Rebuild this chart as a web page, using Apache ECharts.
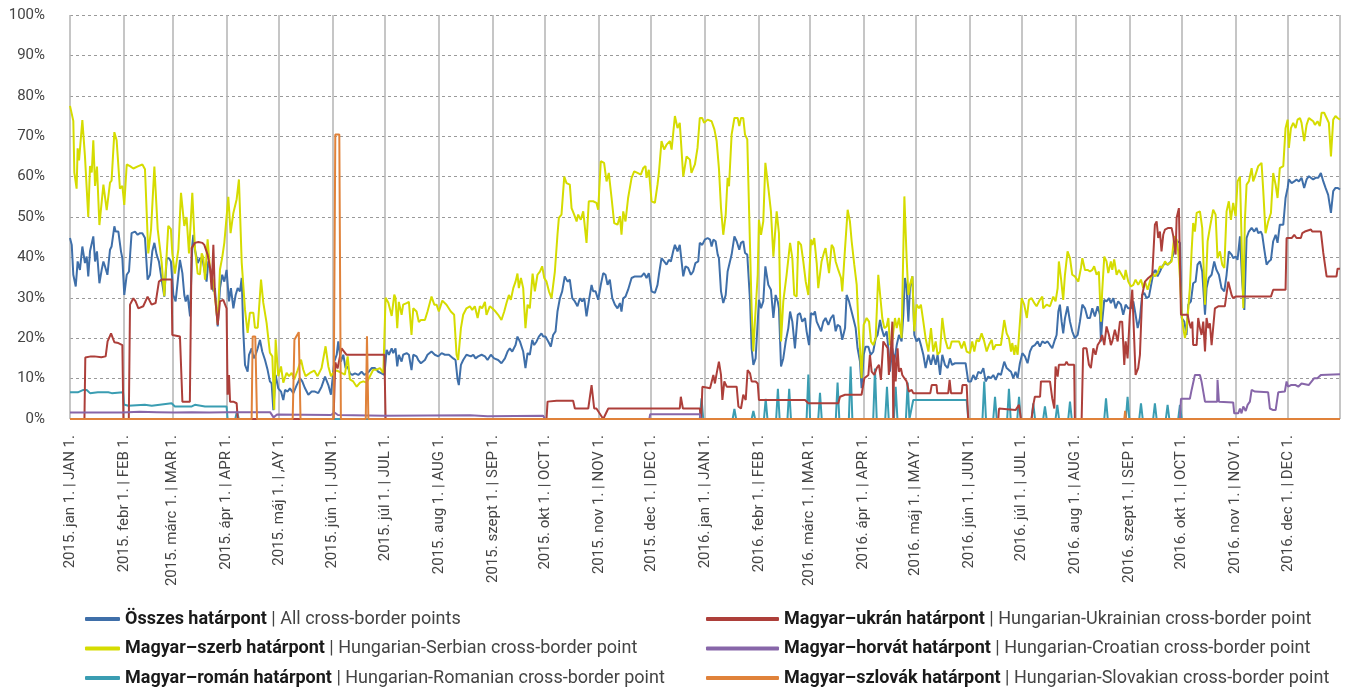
<!DOCTYPE html>
<html><head><meta charset="utf-8">
<script src="https://cdn.jsdelivr.net/npm/echarts@6/dist/echarts.min.js"></script>
<style>html,body{margin:0;padding:0;background:#fff}#c{width:1355px;height:688px}</style>
</head><body><div id="c"></div>
<script>
// x = day index from 2015-01-01 (0) to 2016-12-31 (730)
const dayCount = 731;
const monthStarts = [0,31,59,90,120,151,181,212,243,273,304,334,365,396,425,456,486,517,547,578,609,639,670,700];
const monthLabels = [
 '2015. jan 1. | JAN 1.','2015. febr 1. | FEB 1.','2015. márc 1. | MAR 1.','2015. ápr 1. | APR 1.',
 '2015. máj 1. | ,AY 1.','2015. jún 1. | JUN 1.','2015. júl 1. | JUL 1.','2015. aug 1. | AUG 1.',
 '2015. szept 1. | SEP 1.','2015. okt 1. | OCT 1.','2015. nov 1. | NOV 1.','2015. dec 1. | DEC 1.',
 '2016. jan 1. | JAN 1.','2016. febr 1. | FEB 1.','2016. márc 1. | MAR 1.','2016. ápr 1. | APR 1.',
 '2016. máj 1. | MAY 1.','2016. jún 1. | JUN 1.','2016. júl 1. | JUL 1.','2016. aug 1. | AUG 1.',
 '2016. szept 1. | SEP 1.','2016. okt 1. | OCT 1.','2016. nov 1. | NOV 1.','2016. dec 1. | DEC 1.'];
const yTicks = [0,10,20,30,40,50,60,70,80,90,100];

const seriesNames = ['Összes határpont','Magyar–szerb határpont','Magyar–román határpont','Magyar–ukrán határpont','Magyar–horvát határpont','Magyar–szlovák határpont'];
const seriesEnglish = ['All cross-border points','Hungarian-Serbian cross-border point','Hungarian-Romanian cross-border point','Hungarian-Ukrainian cross-border point','Hungarian-Croatian cross-border point','Hungarian-Slovakian cross-border point'];

const osszes = [[0,44.8],[1,43.1],[1.9,35.7],[3.3,32.8],[4.4,39],[5.7,36.9],[7.1,42.7],[8.6,38.6],[9.6,40.2],[10.5,35.3],[11.5,41.5],[12.5,41.9],[13.4,45.2],[14.4,39],[15.5,41.5],[16.9,33.6],[18.2,36.9],[19.2,39],[20.1,37.8],[21.5,35.7],[23,41.9],[23.9,42.7],[25.5,47.7],[26.2,46.4],[27.8,46.4],[29.3,41.5],[30.1,39.8],[31.2,30.7],[32.6,35.7],[33.9,36.5],[35.4,46],[37.4,46.4],[38.9,45.6],[40.2,46],[41.6,46],[43.1,44.8],[44.6,34.5],[46,35.7],[47.3,41.5],[48.5,43.6],[49.8,40.7],[51.1,39],[52.7,34.5],[54.2,30.3],[55.6,39.8],[56.9,39.8],[58,39],[59.4,30.7],[60.7,29.1],[61.9,34],[63.2,39.4],[64.6,36.1],[65.7,30.7],[66.5,29.1],[67.6,30.7],[69,25.4],[69.5,25],[70.3,43.1],[70.9,45.6],[71.8,41.9],[73.4,38.6],[74.7,39.8],[76.1,39.8],[77.2,36.9],[78.5,34],[79.5,39],[80.5,37.4],[81.4,34.9],[82.4,31.6],[83.3,32.4],[84.9,22.9],[86.2,32.4],[87.5,35.7],[88.7,34],[90,36.9],[91.4,29.1],[92.5,32.4],[93.9,27.4],[95.2,30.7],[96.4,32.4],[97.7,31.6],[98.7,34.9],[99.6,21.7],[100.6,13.4],[102.1,11.7],[102.9,15.9],[104.4,17.5],[105.6,15],[106.7,15.9],[107.9,17.5],[109.2,19.6],[110.5,16.7],[112.1,14.6],[113.6,12.1],[114.9,9.3],[115.9,8.8],[116.9,2.2],[118.2,10.9],[119.7,7.6],[121.3,6.8],[122.6,4.7],[123.6,7.2],[125.1,6.8],[126.4,7.6],[128.4,6.4],[130.3,8.4],[132.2,10.1],[133.5,9.3],[135.1,7.6],[137,6],[138.9,6.8],[140.8,6.8],[142.7,6.4],[144.6,8],[146.6,10.5],[148.5,8.4],[150,6],[151.9,14.2],[153.3,15.9],[154.2,19.2],[155.7,14.2],[157.1,15.9],[158.4,12.6],[159.6,13],[160.9,11.3],[162.3,10.9],[163.8,11.3],[165.7,10.9],[167.6,11.7],[169.2,10.9],[170.5,11.3],[171.8,11.7],[173.4,12.6],[175.3,12.6],[177.2,11.7],[179.1,11.3],[180.7,10.9],[182,17.1],[183.3,15.9],[184.9,17.5],
[185.8,16.3],[187.1,17.5],[188.1,13],[189,15.9],[190.6,14.2],[191.5,15.9],[193.5,16.3],[194.8,15.9],[196.3,12.1],[197.3,15.9],[199.2,15.5],[200.2,14.6],[201.7,13.8],[204,14.6],[205.5,15.9],[207.8,16.7],[209.7,15.9],[211.7,15.5],[213.6,16.3],[215.5,15.9],[217.8,15.9],[220.3,15],[221.6,14.6],[222.8,9.7],[223.5,8.4],[224.7,13.4],[226,14.6],[227.9,15.9],[230.4,15.5],[231.8,15.9],[233.1,15],[234.6,15.5],[236.6,15.9],[238.5,15.5],[240,14.6],[241.9,15.9],[243.8,15],[246.1,14.6],[248,13.8],[250,15],[251.5,16.7],[252.8,17.5],[254.2,16.7],[256.1,18.3],[257.2,20.4],[258.6,19.2],[259.5,19.2],[260.5,16.7],[261.8,12.6],[263,16.3],[264.3,15.9],[265.7,19.6],[266.8,18.3],[268.2,19.2],[269.5,20.4],[271,21.2],[272,20.4],[273.3,20.4],[274.9,19.2],[276.4,17.9],[277.7,20.8],[279.1,21.7],[280.2,26.6],[281.6,29.9],[282.9,31.6],[284.4,35.3],[286,34],[287.3,34.5],[288.7,29.9],[290.2,29.1],[291.7,27.9],[293.1,29.9],[294.4,29.1],[295.6,29.9],[296.9,25.4],[298.2,29.1],[299.8,33.2],[300.7,31.6],[302.1,31.6],[303.6,29.5],[305.1,33.2],[306.5,36.1],[307.8,35.7],[309,33.2],[310.3,34.5],[311.7,29.9],[313.2,28.3],[314.7,27.4],[316.1,28.7],[317,26.6],[318,29.9],[319.3,30.3],[320.8,32],[322.8,34.9],[324.7,35.3],[327,35.3],[328.5,35.3],[330,36.1],[331.4,34.9],[332.7,36.1],[334.3,31.6],[336.2,31.2],[337.7,33.2],[338.5,35.7],[340,39.8],[341.5,39],[342.9,38.2],[344.2,39.4],[345.4,39],[346.7,41.5],[347.7,43.1],[349.2,41.5],[350.5,43.1],[352.5,35.3],[353.8,37.8],[355.3,37.4],[356.9,35.7],[358.2,36.5],[359.5,38.6],[361.1,39],[362,43.6],[363.4,43.1],[364.9,44.4],
[365,44.4],[366.5,44.8],[367.9,44.4],[368.8,42.7],[369.8,44.4],[371.1,44],[372.3,40.7],[373,39.8],[374.2,31.6],[375.5,28.7],[376.9,30.7],[378,36.5],[378.8,36.1],[380.3,40.7],[381.9,45.2],[383.2,44],[384.7,41.9],[385.7,43.6],[387,44],[388,41.1],[389.3,40.7],[390.9,29.1],[391.8,17.5],[392.8,13.4],[394.1,15],[395.3,24.1],[396,29.5],[397.2,27.4],[398.5,29.1],[399.7,37.8],[401.4,33.2],[402.9,32],[404.3,25],[405.6,30.7],[406.8,29.1],[407.5,27.4],[408.7,13],[410,15],[411.4,19.2],[412.9,22.5],[413.9,26.6],[415.2,24.1],[416.7,17.5],[418.3,25.8],[419.6,26.2],[420.9,24.1],[422.5,25],[423.4,21.7],[424.8,18.3],[425.9,26.2],[427.3,25.8],[428.2,26.6],[429.2,24.1],[430.1,23.7],[431.7,21.7],[433,24.1],[434.3,25],[435.9,23.3],[437.4,25],[438.8,25.8],[440.1,21.7],[441.2,23.3],[442.6,22.9],[443.9,19.6],[445.5,22.5],[446.4,30.7],[447.8,29.1],[448.9,29.1],[450.2,25],[451.6,22.5],[452.7,17.5],[454.1,14.2],[455,7.6],[456.2,15.9],[457.3,17.9],[458.9,17.9],[460.2,15.9],[461.7,16.7],[463.1,20],[464.2,20.8],[465.6,24.5],[466.5,22.5],[467.9,20.4],[469.4,21.7],[470.4,17.5],[471.3,11.7],[472.7,17.5],[473.8,14.2],[475.2,18.3],[476.5,20.8],[478,19.2],[479,25.8],[479.9,34.9],[480.9,32.4],[481.9,24.1],[482.8,32.4],[484.2,35.3],[485.3,20.8],[486.6,19.2],[488,20],[489.1,18.3],[490.5,15.9],[491.8,12.6],[493.4,15.9],[494.9,13.4],[496.2,15.9],[497.6,13.4],[498.7,15.9],[500.1,10.9],[501.4,15.9],[502.9,13.4],[504.5,12.6],[505.8,15],[507,13.4],[508.7,13.8],[512.9,13.8],[514.8,13.8],[516.3,9.3],[517.9,9.3],[519.2,10.9],[520.6,9.7],[522.1,11.7],[523.6,11.3],[525,12.6],[526.3,9.3],[527.8,10.5],[529.4,10.1],[530.7,10.9],[532.1,9.7],[533.6,11.3],[535.1,10.9],[537,14.2],[538.4,12.6],[539.7,12.1],[540.9,11.7],[542.2,10.1],[543.5,11.7],[544.7,10.1],[546,13.8],[547.4,16.3],[548.9,15.5],
[550.4,13.8],[551.8,16.7],[553.1,17.9],[554.6,18.3],[556.2,19.2],[557.5,17.9],[558.9,19.2],[560.4,18.8],[561.9,19.2],[563.3,18.3],[564.6,17.5],[565.8,19.2],[567.1,20.8],[568.1,26.6],[569,28.3],[570,24.1],[570.9,21.2],[571.9,24.9],[573.4,27.9],[574.8,24.1],[576.1,21.7],[577.6,20],[579.2,20.8],[580.5,24.1],[581.9,28.3],[583.4,27.4],[584.9,25],[586.3,25],[587.6,27.4],[589.1,25.4],[590.7,27.9],[592,25.8],[592.6,19.2],[593.3,24.1],[594.5,29.5],[595.8,29.1],[597.2,29.9],[598.3,28.7],[599.7,29.9],[601,27.4],[602.5,29.1],[604.1,28.3],[605.4,25.8],[606.8,28.3],[608.3,27.4],[609.8,27.4],[611.2,29.1],[612.5,25.8],[613.7,22.5],[615,25],[616.3,30.7],[617.5,31.2],[618.8,29.9],[620.2,30.3],[621.3,29.9],[622.7,36.1],[624,36.9],[625.1,35.3],[626.5,36.5],[627.8,37.8],[629.4,38.6],[630.9,38.2],[632.8,39],[634.1,40.7],[635.5,43.1],[636.6,44],[638,43.6],[639,25],[640.5,24.1],[641.8,20.8],[642.8,28.3],[644.3,29.1],[645.6,33.6],[647,34],[648.1,38.2],[649.5,39],[650.8,36.5],[652.4,25.8],[653.3,32.4],[654.6,34.9],[656.2,35.7],[657.7,39],[659,36.9],[660.4,35.7],[661.9,32.4],[663.5,31.6],[664.8,35.7],[666.1,41.5],[667.7,40.7],[668.6,39.8],[670,40.2],[671.1,39.4],[672.5,45.2],[673.8,34],[675,27],[676.3,44.8],[677.6,46.4],[679.2,47.3],[680.7,46.4],[682,47.3],[683,46],[684.5,46.4],[685.3,45.6],[686.5,41.9],[687.8,38.2],[689.1,39],[690.3,39.4],[691.6,44],[693,45.6],[694.1,43.6],[695.4,48.1],[697.4,48.1],[698.7,54.7],[699.9,57.2],[700.6,59.3],[702.2,58.4],[703.7,58.8],[705,59.3],[706.4,58.8],[707.9,59.7],[709.4,57.2],[710.8,59.3],[712.1,60.1],[713.3,59.7],[714.6,59.3],[715.9,59.7],[717.5,59.7],[719,60.9],[720.4,58.8],[721.7,57.2],[723.2,55.5],[724.8,51],[726.1,56.4],[727.4,57.2],[728.6,57.2],[730,56.8]];

const szerb = [[0,77.5],[1.9,73.8],[2.5,61],[3.8,57],[4.4,67],[5.2,64],[7.1,74],[8.6,65],[10.5,50],[11.5,62.6],[12.5,61],[13.4,69],[14.4,57.7],[15.5,62.5],[16.9,48],[19.2,58],[21.1,51.7],[23,58.5],[23.9,59],[25.5,71],[26.8,69],[27.8,69],[28.7,57],[30.1,57.7],[31.2,53],[32.6,63],[34.5,62.6],[36.4,62],[39.3,62.6],[41.6,63],[43.1,61.8],[45,41],[46.6,47],[48.5,62.5],[50.4,47],[52.7,38.7],[54.2,30.4],[56.5,47.8],[58,47],[58.8,41],[60.3,36],[62.3,42],[63.8,56],[65.7,47.8],[67,50],[68.4,41],[70.3,56],[71.8,42.4],[73.4,36],[74.7,35.8],[75.7,41],[76.6,40],[77.6,34.5],[79.1,44.5],[80.5,37],[82.4,34],[83.7,28.8],[84.9,23.8],[86.2,37],[87.5,40],[88.7,43.6],[91,55],[92.3,46],[93.9,51],[95.8,54.4],[97.1,59.3],[98.7,38.7],[100.6,27],[102.1,21.3],[103.4,26.3],[105.4,26.3],[106.3,22.6],[107.9,22.6],[109.8,34.5],[111.1,28.8],[113,23.8],[114.9,16.4],[116.3,15.5],[117.4,2.3],[118.2,19.7],[119.7,10.6],[121.3,13],[122.6,9],[124.5,11.4],[125.9,10.6],[127.4,11.4],[128.9,9.8],[130.8,12],[132.8,14.7],[134.1,12.2],[135.4,10.6],[137.9,11.4],[140.4,12],[142.3,10.6],[144.6,12.6],[146.9,18],[148.5,13],[150,10.6],[151.3,11.4],[153.3,12],[156.1,11.4],[158,11],[159.6,15.5],[160.9,9.8],[162.8,9.3],[164.8,8],[166.7,9],[168.6,9.3],[170.5,9],[172.4,10.6],[174.3,12.2],[176.2,12.2],[178.2,12.6],[180.1,11.4],[181.4,30],[183,28.8],[184.9,25.5],[186.4,30.8],
[187.1,30],[188.1,22.5],[189,29],[190.6,25.8],[191.5,28.3],[193.5,28.7],[194.8,29],[196.3,20.8],[197.3,27.4],[199.2,26.6],[200.5,24],[201.7,24.5],[204,24.5],[205.5,26.6],[207.8,30.3],[209.4,28.3],[210.7,28.3],[212,26.6],[214,29.3],[216.4,28.3],[218.9,26.6],[220.8,25.8],[222.2,15.9],[223.1,14.6],[224.7,22.5],[226,25.8],[227.9,27.4],[229.9,27.9],[231.2,27],[232.7,27.9],[234.3,25],[235.6,27.9],[236.9,27.4],[238.5,29],[239.4,25.8],[241.3,27.9],[242.7,27.4],[244.6,26.6],[246.1,25.8],[248,24.5],[249.6,26.6],[250.9,28.7],[252.3,30.7],[253.4,29.5],[254.8,32.4],[256.1,34],[257.2,36],[258,32.4],[259.2,34.9],[260.5,32.4],[261.8,22.5],[263,28.3],[264.3,27.4],[265.9,36],[267.2,31.6],[268.7,35.7],[270.1,36.5],[271.4,37.8],[272.6,34.9],[273.9,34],[275.3,31.6],[276.8,29.9],[278.7,36.5],[280.2,45.6],[281,49.8],[282.5,50.6],[284.1,60],[285.4,58.4],[287.3,58],[288.3,52.2],[289.8,50.6],[291.2,48.9],[292.1,50.6],[293.6,49.3],[295,51.4],[296.9,43.6],[298.2,53.9],[300.7,53.9],[302.6,53.5],[303.6,51.8],[305.1,63.8],[307,63.4],[308.4,58.8],[309.7,60.9],[311.3,54.7],[312.8,48.5],[314.7,48.1],[316.1,50.2],[317,45.6],[318,51.4],[319.3,48.9],[320.8,54.7],[322.8,59.7],[324.3,61.3],[326.2,60.9],[328.1,60.5],[329.5,62.1],[330.8,62.6],[331.4,59.7],[332.7,61.7],[334.3,53.9],[336.2,53.5],[337.7,58],[338.5,60.9],[340,68.8],[341.5,66.7],[342.9,67.9],[344.8,68.8],[345.8,66.7],[347.7,75],[349.2,72],[350.5,73.3],[352.5,60],[354.4,65],[356.3,64.2],[357.2,60.9],[359.2,63],[360.7,67.1],[362,74.5],[363.4,74.5],[364.5,73.3],
[365,73.3],[366.5,74.1],[368.8,73.7],[370.4,71.7],[371.7,68.8],[373,62.1],[374.2,52.2],[375.5,45.6],[376.9,50.6],[378,59.7],[378.8,57.6],[380.3,70.4],[381.9,74.5],[383.8,74.5],[384.7,72.5],[385.7,74.5],[387,74.5],[388,70.4],[389.3,69.2],[390.9,42.3],[391.8,27.4],[392.8,16.7],[393.7,24.1],[395.3,35.7],[396,49.3],[397.2,45.6],[398.5,48.9],[399.7,63.4],[401.4,57.2],[402.9,51.4],[404.3,40.2],[405.2,45.6],[406.2,51.4],[407.5,46],[408.7,19.2],[410,29.1],[411.9,35.7],[413.9,43.6],[415.2,39.8],[416.3,30.7],[417.7,30.3],[418.6,44],[420.2,43.1],[421.5,39],[422.9,34],[424.4,30.7],[425.9,44.4],[426.7,43.1],[427.8,44.8],[429.2,38.6],[430.1,32.4],[432,39],[433.6,41.5],[434.3,42.3],[436.3,36.1],[437.8,43.1],[438.9,42.3],[440.1,39],[441.6,36.9],[443.2,34.9],[443.9,31.6],[445.5,42.3],[447,51.8],[448.3,48.9],[449.3,44],[450.8,38.2],[452.2,33.2],[453.1,24.1],[454.1,17.5],[455,10.1],[456.2,23.3],[457.9,25],[459.3,24.1],[460.4,19.2],[461.7,18.3],[463.1,20],[464.6,35.7],[465.6,36.1],[466.9,25],[468.1,22.5],[469.4,22.9],[470.4,25],[471.3,18.3],[472.7,19.6],[474.2,25],[475.2,22.5],[476.5,25],[478,20],[479.6,55.1],[480.9,39.8],[481.9,30.7],[482.8,33.2],[484.2,35.3],[485.3,21.7],[486.6,28.3],[488,27.4],[489.1,28.3],[490.5,24.1],[491.8,20],[493.4,16.7],[494.9,22.5],[496.2,16.7],[497.6,19.2],[498.7,15.9],[500.1,16.7],[501.4,25],[502.9,20],[504.5,17.5],[505.8,17.5],[506.8,19.2],[508.7,19.2],[511,19.2],[512.5,17.5],[514,19.2],[515.4,16.7],[517.3,16.3],[518.6,19.2],[519.8,16.7],[521.1,19.6],[522.5,19.2],[524,21.2],[525.5,19.2],[526.9,16.7],[528.2,18.3],[529.8,19.6],[530.7,17.1],[532.1,18.3],[533.6,18.3],[535.1,18.3],[537,24.5],[538.4,21.2],[539.7,20],[540.9,16.7],[541.6,18.8],[542.8,15.9],[543.5,18.3],[544.7,15.9],[545.5,20.8],[547,29.9],[548.5,28.3],
[549.3,28.7],[550,25],[551.2,29.5],[552.7,29.9],[554.3,28.7],[555.6,27.9],[557.5,29.5],[558.9,30.3],[559.4,27.4],[561.4,28.3],[563.3,27.9],[565.2,30.3],[566.5,29.1],[567.7,32.4],[568.4,39],[569.6,34.9],[570.9,29.5],[571.9,35.7],[573.4,41.5],[574.8,39.8],[576.1,35.7],[577.6,35.3],[579.6,34],[581.1,37.4],[581.9,39.8],[583.4,36.9],[584.9,36.9],[586.3,36.5],[587.6,36.9],[588.7,37.8],[590.1,35.7],[591.4,36.5],[592.6,24.1],[593.3,31.6],[594.5,40.2],[595.8,39],[596.8,36.1],[598.3,39],[599.1,36.9],[600.2,39.5],[601.6,35.7],[602.9,36.9],[604.5,35.7],[606,34.5],[606.8,36.9],[608.3,34],[609.8,32.8],[611.2,33.2],[612.5,34.5],[614,33.2],[615.6,34.5],[616.9,32.4],[617.9,34],[619.4,32],[620.7,34],[622.1,36.1],[623.6,35.3],[625.1,36.1],[626.5,37.8],[627.8,37.4],[629.4,39],[630.9,38.2],[633.2,39],[634.7,45.2],[636.1,44.4],[637,41.5],[638,34.9],[639,25.8],[639.9,22.5],[640.9,20],[641.8,22.5],[642.8,27.4],[643.7,32.4],[644.7,41.5],[645.6,48.5],[646.6,46.4],[647.6,51],[649.5,51.4],[650.8,47.3],[652.4,28.3],[653.9,44],[655.2,47.3],[657.1,51.8],[658.5,50.6],[659.6,39.8],[661,41.5],[662.3,38.2],[663.5,37.4],[664.8,51.4],[666.1,53.9],[667.3,49.3],[668.6,53.5],[670,50.2],[671.1,58.8],[672.5,60],[673.4,44.8],[674.4,27.4],[675.3,48.9],[676.3,58],[677.6,58.8],[679.2,62.1],[680.1,58.8],[681.1,60],[683,62.6],[684.9,63.4],[685.9,56.4],[687.2,46],[688.7,48.9],[690.3,51],[691.6,60.9],[693,58],[694.1,54.7],[695.4,62.1],[697.4,62.6],[698.7,72],[699.9,74.1],[700.6,67.1],[701.8,72],[703.1,73.3],[704.5,72],[705.6,74.1],[707,74.5],[707.9,73.3],[709.4,68.8],[710.8,72.8],[712.1,74.5],[713.3,74.1],[714.6,73.7],[715.6,72.8],[717.1,73.7],[718.4,72.5],[719.4,75.8],[720.9,75.8],[722.3,74.5],[723.6,73.3],[724.8,65],[726.1,74.1],[727.4,75],[728.6,74.5],[730,74.1]];

const roman = [[0,6.6],[4.5,6.6],[7.7,7.2],[9.6,7.2],[11.5,6.4],[16,6.6],[22,6.6],[24,6.4],[30.5,6.6],[31,3.6],[33.5,3.3],[43,3.5],[47,3.3],[58.4,3.9],[60.3,3.1],[70,3.1],[71.8,3.5],[77.6,3.1],[90,3.1],[90.6,0],[95,0],[96,2],[97,0],[362,0],[363,5.1],[364,0],
[380.9,0],[381.9,2.5],[382.9,0],[391.8,0],[392.8,2],[393.8,0],[398.9,0],[399.9,5],[400.9,0],[405.9,0],[406.9,7.5],[407.9,0],[412.4,0],[413.4,7.5],[414.4,0],[423.4,0],[424.4,11],[425.4,0],[430.1,0],[431.1,6.5],[432.1,0],[440.2,0],[441.2,9],[442.2,0],[447.7,0],[448.7,13],[449.7,0],[461.7,0],[462.7,12.5],[463.7,0],[468.6,0],[469.6,8],[470.6,0],[473.6,0],[474.6,8],[475.6,0],[480.5,0],[481.5,9],[482.5,0],[483.5,0],[484.7,4.7],[515.4,4.7],[516.3,0],
[524.5,0],[525.5,9.3],[526.5,0],[530.7,0],[531.7,5.5],[532.7,0],[538.7,0],[539.7,7.5],[540.7,0],[544.5,0],[545.5,5.5],[546.5,0],[552.7,0],[553.7,3.9],[554.7,0],[559.4,0],[560.4,3.1],[561.4,0],[566.5,0],[567.5,3.5],[568.5,0],[573.8,0],[574.8,4.3],[575.8,0],[594.5,0],[595.5,5.1],[596.5,0],[606.9,0],[607.9,5.5],[608.9,0],[614.6,0],[615.6,3.9],[616.6,0],[622.6,0],[623.6,3.9],[624.6,0],[629.9,0],[630.9,3.5],[631.9,0],[637,0],[638,3.5],[639,0],[730,0]];

const ukran = [[0,0],[8.3,0],[8.8,15.2],[12,15.5],[14,15.5],[18,15.3],[20.5,15.5],[21.6,19.2],[23.6,21.2],[25.5,19],[27.8,18.8],[30.1,18.3],[30.7,0],[33.8,0],[34.5,28.3],[36.4,29.9],[37.7,29.1],[39.3,27.4],[42.1,27.9],[44.6,30.3],[46.9,28.3],[49.2,28.7],[51.1,34],[52.7,34.5],[58.4,34.5],[58.8,20.8],[63.2,20.4],[64.6,4.3],[68.9,4.3],[69.9,42.3],[71.8,43.6],[73.8,43.8],[76.1,43.6],[77.2,43.1],[79.1,40.7],[80.5,37.4],[81.4,32],[82.4,43.1],[83.3,30.7],[84.9,23.3],[86.2,29.1],[88.1,29.5],[90,27.4],[90.6,6],[91.4,10.9],[92,4.3],[93.9,4.3],[95.8,3.9],[96.4,0],
[151.5,0],[152.5,14],[153.8,12.5],[156.1,17.5],[159,15.9],[172,15.9],[180.7,15.9],[181.4,0],
[273.9,0],[274.5,4.3],[279.7,4.5],[289.2,4.5],[290.2,2.6],[297.9,2.6],[299.8,8.4],[301.3,2.6],[302.6,2.6],[306.5,0],[309.4,2.6],[350.5,2.6],[351.1,5.5],[352.3,2.6],[362,2.6],[362.8,0],[363.5,8],[367.9,7.6],[369.8,10.9],[370.7,8.8],[371.7,11.3],[373,14.2],[374.2,10.9],[375,4.7],[376.1,9.3],[377.5,8],[383.2,8],[384.2,3.1],[385.7,2.6],[387,6],[388.4,4.7],[389.5,12.1],[390.9,11.3],[391.8,9.3],[394.1,9.3],[395.3,8.8],[396,4.7],[422.5,4.7],[424.4,3.9],[441.6,3.9],[442.6,5.5],[445.5,6],[455,6],[456.6,10.1],[458.9,10.9],[459.8,15.9],[460.8,11.7],[462.3,10.9],[463.7,12.6],[465,13.4],[466.1,9.7],[467.5,19.2],[468.4,19.2],[470,17.5],[470.7,10.9],[471.9,17.5],[472.7,24.1],[473.2,0],[473.8,15.9],[474.6,9.3],[475.7,17.5],[476.5,11.7],[477.6,12.6],[478.4,10.9],[479.6,10.1],[480.9,9.3],[482.2,6.8],[483.8,7.2],[484.7,6.4],[494.5,6.4],[495.3,8.4],[498.1,8.4],[498.5,6.4],[504.8,6.4],[505.6,9.7],[506.4,6.4],[512.5,6.4],[513,8.4],[515.4,8.4],[516.3,0],[533.6,0],[534,2.6],[543.5,2.2],[545.5,3.5],[546.6,0],
[552.7,0],[553.7,3.5],[554.6,5.5],[557.6,5.5],[558.1,9.3],[563.3,9.3],[564.6,5.1],[565.8,2.6],[566.5,13],[567.7,10.5],[568.4,13.4],[571.9,13.4],[572.8,14.2],[573.8,13.4],[577.2,13.4],[577.6,0],[581.5,0],[582.4,17.5],[584.3,17.5],[585.7,13.4],[586.8,12.6],[588.2,17.5],[589.5,15.9],[590.7,18.3],[592,19.2],[593.3,20.8],[594.5,18.3],[595.8,22.9],[597.2,20.8],[598.3,18.3],[599.1,19.2],[600.6,22.1],[602.2,19.2],[603.5,24.1],[604.8,24.1],[606,13.4],[606.8,19.2],[607.9,15],[609.2,25.8],[610.6,32],[611.7,32.4],[612.5,10.9],[614,12.6],[615,15.9],[616.3,30.7],[617.9,34],[619.8,34.9],[622.1,35.7],[623.6,48.1],[624.6,48.9],[625.5,44.8],[626.5,46.4],[627.4,41.5],[628.4,45.6],[629.4,46.9],[631.3,47.3],[633.2,47.3],[634.2,45.2],[635.5,40.7],[636.1,49.8],[637.4,52.2],[638,52.6],[638.6,25.8],[642.4,25.8],[643.2,24.1],[644.3,22.5],[645.1,24.1],[645.6,18.3],[647.6,18.3],[648.5,25],[649.5,22.5],[650.4,20.8],[651.4,24.1],[652.4,16.7],[653.3,25],[654.3,22.5],[655.2,23.7],[656.2,18.3],[657.1,18.3],[658.1,27.4],[660,27.9],[663.8,27.9],[664.8,28.3],[665.8,34],[666.7,34],[667.7,30.7],[668.6,29.9],[670,30.3],[690.3,30.3],[691.6,32],[698.7,32],[699.3,44.8],[702.2,44.8],[703.7,45.6],[704.5,46],[705,44.8],[707.5,44.8],[708.3,46],[709.8,46.4],[713.3,46.9],[714,46.4],[719,46.4],[720.4,41.1],[721.3,41.1],[722.3,35.3],[728,35.3],[728.6,37.2],[730,37.2]];

const horvat = [[0,1.6],[30,1.6],[31,1.5],[40,1.8],[50,1.7],[60,1.6],[70,1.7],[80,1.6],[90,1.7],[100,1.7],[115,1.7],[117,0.4],[119,1.1],[150,1],[152,1.6],[154,1],[181,0.8],[230,0.9],[240,0.7],[272,0.8],[273,0],[333,0],[333.5,1.2],[343,1.2],[344,1.6],[345,1.2],[362,1.2],[362.5,0],
[638,0],[638.6,5],[643.7,5],[644.7,7.2],[646.6,10.9],[649.5,10.9],[650.4,9.3],[652.4,4.3],[659.4,4.3],[659.6,9.7],[660.4,4.3],[668.6,4.1],[669.2,1.4],[671.5,1.4],[672.5,2.6],[673.4,1.4],[674.4,3.1],[675.8,2],[676.9,3.5],[678.2,4.3],[679.2,7.2],[681.1,6.8],[688.7,6.6],[689.7,2.6],[691.6,2.2],[693,2.2],[694.5,6.6],[698.3,6.8],[699.3,9.3],[700.2,8],[701.8,8.4],[704.5,8.4],[706,8],[707.9,8.8],[712,8.4],[715.2,10.1],[717,10.1],[719,10.9],[730,11.1]];

const szlovak = [[0,0],[104.4,0],[105,20.4],[106.5,20.4],[107.5,0],[128,0],[129,19.6],[131.5,21.5],[132.5,0],[151.5,0],[152.5,70.4],[154.8,70.4],[155.7,0],[170,0],[170.7,20.5],[171.5,0],[606,0],[606.5,2],[607,0],[730,0]];

const seriesData = [osszes, szerb, roman, ukran, horvat, szlovak];
const seriesColors = ['#3f6fa9','#d5dc00','#3a9db2','#ad3f3a','#8766a9','#e0823a'];

const labelMap = {};
monthStarts.forEach((d, i) => { labelMap[d] = monthLabels[i]; });
const splitSet = new Set(monthStarts.concat([dayCount - 1]));
const dayCats = Array.from({length: dayCount}, (_, i) => String(i));
const engMap = {};
seriesNames.forEach((n, i) => { engMap[n] = seriesEnglish[i]; });

const font = 'Roboto, "Noto Sans", sans-serif';
const legendCommon = {
  orient: 'vertical', top: 609, height: 80, padding: 0, itemHeight: 4, itemGap: 9.5, icon: 'roundRect',
  selectedMode: false,
  formatter: n => '{b|' + n + '} | ' + engMap[n],
  textStyle: { fontFamily: font, fontSize: 18, color: '#444', lineHeight: 20,
    rich: { b: { fontFamily: font, fontSize: 18, fontWeight: 'bold', color: '#1a1a1a', lineHeight: 20 } } }
};

const chart = echarts.init(document.getElementById('c'), null, { renderer: 'canvas' });
chart.setOption({
  animation: false,
  backgroundColor: '#fff',
  grid: { left: 70, right: 15, top: 15, bottom: 269 },
  legend: [
    Object.assign({}, legendCommon, { left: 85, itemWidth: 35, data: [seriesNames[0], seriesNames[1], seriesNames[2]] }),
    Object.assign({}, legendCommon, { left: 706, itemWidth: 73, data: [seriesNames[3], seriesNames[4], seriesNames[5]] })
  ],
  xAxis: [
    { type: 'category', data: dayCats, boundaryGap: false,
      axisLine: { show: false }, axisTick: { show: false },
      axisLabel: { interval: (i) => labelMap[i] !== undefined, formatter: (v, i) => labelMap[i] || '',
        rotate: 90, margin: 16, fontFamily: font, fontSize: 15, color: '#444' },
      splitLine: { show: true, interval: (i) => splitSet.has(i), lineStyle: { color: '#b3b3b3', width: 1.5 } } },
    { type: 'value', min: 0, max: dayCount - 1, show: false }
  ],
  yAxis: { type: 'value', min: yTicks[0], max: yTicks[yTicks.length - 1], interval: 10,
    axisLine: { show: false }, axisTick: { show: false },
    axisLabel: { formatter: '{value}%', margin: 25, fontFamily: font, fontSize: 15, color: '#444' },
    splitLine: { lineStyle: { color: '#9a9a9a', type: [3, 3], width: 1 } } },
  series: seriesNames.map((n, i) => ({
    name: n, type: 'line', xAxisIndex: 1, data: seriesData[i], showSymbol: false, symbol: 'none',
    lineStyle: { width: 2, color: seriesColors[i] }, itemStyle: { color: seriesColors[i] },
    z: 2 + i
  }))
});
</script>
</body></html>
